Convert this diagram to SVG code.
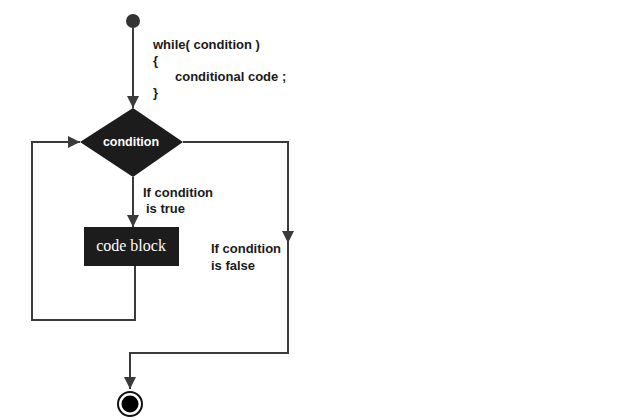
<svg xmlns="http://www.w3.org/2000/svg" width="640" height="420" viewBox="0 0 640 420">
<style>
.t{font-family:"Liberation Sans",Arial,sans-serif;font-weight:bold;font-size:13px;fill:#1a1a1a}
.w{font-family:"Liberation Sans",Arial,sans-serif;font-weight:bold;font-size:12.5px;fill:#fff}
.c{fill:none;stroke:#3a3a3a;stroke-width:2}
</style>
<defs>
<marker id="a" viewBox="0 0 10 10" refX="10" refY="5" markerWidth="12" markerHeight="14" markerUnits="userSpaceOnUse" orient="auto">
<path d="M0,0 L10,5 L0,10 z" fill="#3a3a3a"/>
</marker>
</defs>
<rect width="640" height="420" fill="#fff"/>
<g id="connectors">
<path class="c" d="M133,28 V108" marker-end="url(#a)"/>
<path class="c" d="M133,177 V227" marker-end="url(#a)"/>
<path class="c" d="M135,266 V320 H32 V142 H80" marker-end="url(#a)"/>
<path class="c" d="M183,142 H288 V243" marker-end="url(#a)"/>
<path class="c" d="M288,240 V353 H130 V389" marker-end="url(#a)"/>
</g>
<g id="start"><circle cx="133" cy="21" r="7" fill="#333"/></g>
<g id="code-text">
<text class="t" x="153" y="49">while( condition )</text>
<text class="t" x="153" y="65">{</text>
<text class="t" x="175" y="81">conditional code ;</text>
<text class="t" x="153" y="97">}</text>
</g>
<g id="decision">
<polygon points="133,108 183,142 133,177 80,142" fill="#1c1c1c"/>
<text class="w" x="131" y="146" text-anchor="middle">condition</text>
</g>
<g id="true-label">
<text class="t" x="143" y="197">If condition</text>
<text class="t" x="146" y="213">is true</text>
</g>
<g id="codeblock">
<rect x="84" y="227" width="95" height="39" fill="#1c1c1c"/>
<text x="131" y="251" text-anchor="middle" font-family="'Liberation Serif','Times New Roman',serif" font-size="16" fill="#fff">code block</text>
</g>
<g id="false-label">
<text class="t" x="211" y="253">If condition</text>
<text class="t" x="211" y="270">is false</text>
</g>
<g id="end">
<circle cx="130" cy="404" r="12" fill="#fff" stroke="#111" stroke-width="2"/>
<circle cx="130" cy="404" r="8.5" fill="#000"/>
</g>
</svg>
